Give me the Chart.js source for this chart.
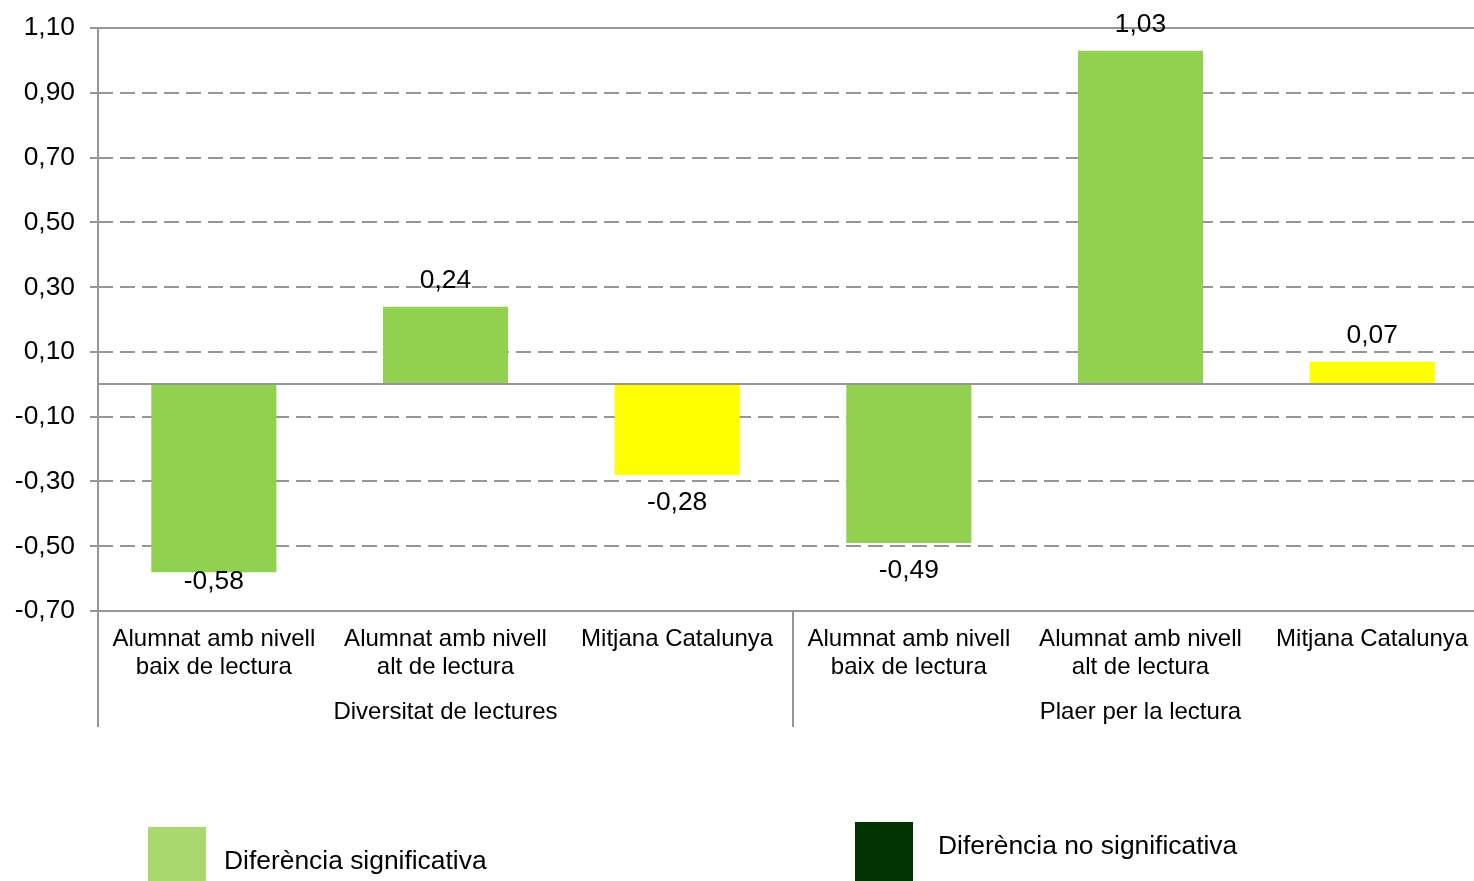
<!DOCTYPE html>
<html>
<head>
<meta charset="utf-8">
<script src="https://cdn.jsdelivr.net/npm/chart.js@4/dist/chart.umd.min.js"></script>
<style>
  html, body { margin: 0; padding: 0; background: #fff; overflow: hidden; }
  #wrap { position: relative; width: 1474px; height: 881px; overflow: hidden; }
  canvas { position: absolute; left: 0; top: 0; }
  .sq { position: absolute; width: 58px; }
  .lbl { position: absolute; font-family: 'Liberation Sans', Arial, sans-serif; font-size: 26.4px; color: #000; line-height: 30px; white-space: nowrap; }
</style>
</head>
<body>
<div id="wrap">
  <canvas id="grafic" width="1490" height="881"></canvas>
  <div class="sq" style="left:148px; top:827px; height:54px; background:#a9d86e"></div>
  <div class="lbl" style="left:224px; top:845px">Diferència significativa</div>
  <div class="sq" style="left:855px; top:822px; height:59px; background:#003300"></div>
  <div class="lbl" style="left:938px; top:830px">Diferència no significativa</div>
</div>
<script>
// Dades
const categories = [
    ['Alumnat amb nivell', 'baix de lectura'],
    ['Alumnat amb nivell', 'alt de lectura'],
    'Mitjana Catalunya',
    ['Alumnat amb nivell', 'baix de lectura'],
    ['Alumnat amb nivell', 'alt de lectura'],
    'Mitjana Catalunya'
];
const grups = ['Diversitat de lectures', 'Plaer per la lectura'];
const valors = [-0.58, 0.24, -0.28, -0.49, 1.03, 0.07];
const tipus = ['sig', 'sig', 'mitjana', 'sig', 'sig', 'mitjana'];
const ticksY = [-0.70, -0.50, -0.30, -0.10, 0.10, 0.30, 0.50, 0.70, 0.90, 1.10];

const colors = { sig: '#92d050', mitjana: '#ffff00' };
const gris = '#969696';
const font = "'Liberation Sans', Arial, sans-serif";

function fmt(v) {
    return v.toFixed(2).replace('.', ',');
}

Chart.defaults.font.family = font;
Chart.defaults.font.size = 24;
Chart.defaults.color = '#000';

// Linies, etiquetes de grup i valors
const extres = {
    id: 'extres',
    afterDraw(chart) {
        const ctx = chart.ctx;
        const area = chart.chartArea;
        const x = chart.scales.x;
        const y = chart.scales.y;
        ctx.save();
        ctx.strokeStyle = gris;
        ctx.lineWidth = 2;
        ctx.setLineDash([]);
        // linia del zero, superior i inferior
        [0, ticksY[0], ticksY[ticksY.length - 1]].forEach(v => {
            const py = Math.round(y.getPixelForValue(v));
            ctx.beginPath();
            ctx.moveTo(area.left, py);
            ctx.lineTo(area.right, py);
            ctx.stroke();
        });
        // eix vertical i separadors de grup
        const baix = area.bottom + 116;
        ctx.beginPath();
        ctx.moveTo(area.left, area.top);
        ctx.lineTo(area.left, baix);
        ctx.stroke();
        const mida = categories.length / grups.length;
        for (let g = 1; g < grups.length; g++) {
            const px = (x.getPixelForValue(g * mida - 1) + x.getPixelForValue(g * mida)) / 2;
            ctx.beginPath();
            ctx.moveTo(px, area.bottom);
            ctx.lineTo(px, baix);
            ctx.stroke();
        }
        // etiquetes de grup
        ctx.fillStyle = '#000';
        ctx.font = '24px ' + font;
        ctx.textAlign = 'center';
        ctx.textBaseline = 'middle';
        grups.forEach((nom, g) => {
            const px = (x.getPixelForValue(g * mida) + x.getPixelForValue(g * mida + mida - 1)) / 2;
            ctx.fillText(nom, px, area.bottom + 101);
        });
        // valors de les barres
        ctx.font = '26.4px ' + font;
        chart.getDatasetMeta(0).data.forEach((bar, i) => {
            const v = valors[i];
            let py;
            if (v >= 0) {
                py = bar.y - 26;
            } else {
                py = Math.min(bar.y + 28, area.bottom - 29);
            }
            ctx.fillText(fmt(v), bar.x, py);
        });
        ctx.restore();
    }
};

new Chart(document.getElementById('grafic'), {
    type: 'bar',
    data: {
        labels: categories,
        datasets: [{
            data: valors,
            backgroundColor: tipus.map(t => colors[t]),
            borderWidth: 0,
            barPercentage: 0.54,
            categoryPercentage: 1
        }]
    },
    options: {
        responsive: false,
        animation: false,
        layout: { padding: { top: 26, right: 2, left: 0, bottom: 0 } },
        plugins: { legend: { display: false }, tooltip: { enabled: false } },
        scales: {
            x: {
                grid: { display: false, drawTicks: false },
                border: { display: false },
                ticks: { padding: 14, autoSkip: false, maxRotation: 0, font: { size: 24, lineHeight: 1.17 } },
                afterFit(scale) { scale.height = 270; }
            },
            y: {
                min: ticksY[0],
                max: ticksY[ticksY.length - 1],
                afterBuildTicks(scale) { scale.ticks = ticksY.map(v => ({ value: v })); },
                grid: { color: gris, lineWidth: 2, tickLength: 8, tickColor: gris, tickBorderDash: [] },
                border: { display: false, dash: [15, 7] },
                ticks: { padding: 15, font: { size: 26.4, lineHeight: 1 }, callback: v => fmt(v) },
                afterFit(scale) { scale.width = 98; }
            }
        }
    },
    plugins: [extres]
});
</script>
</body>
</html>
